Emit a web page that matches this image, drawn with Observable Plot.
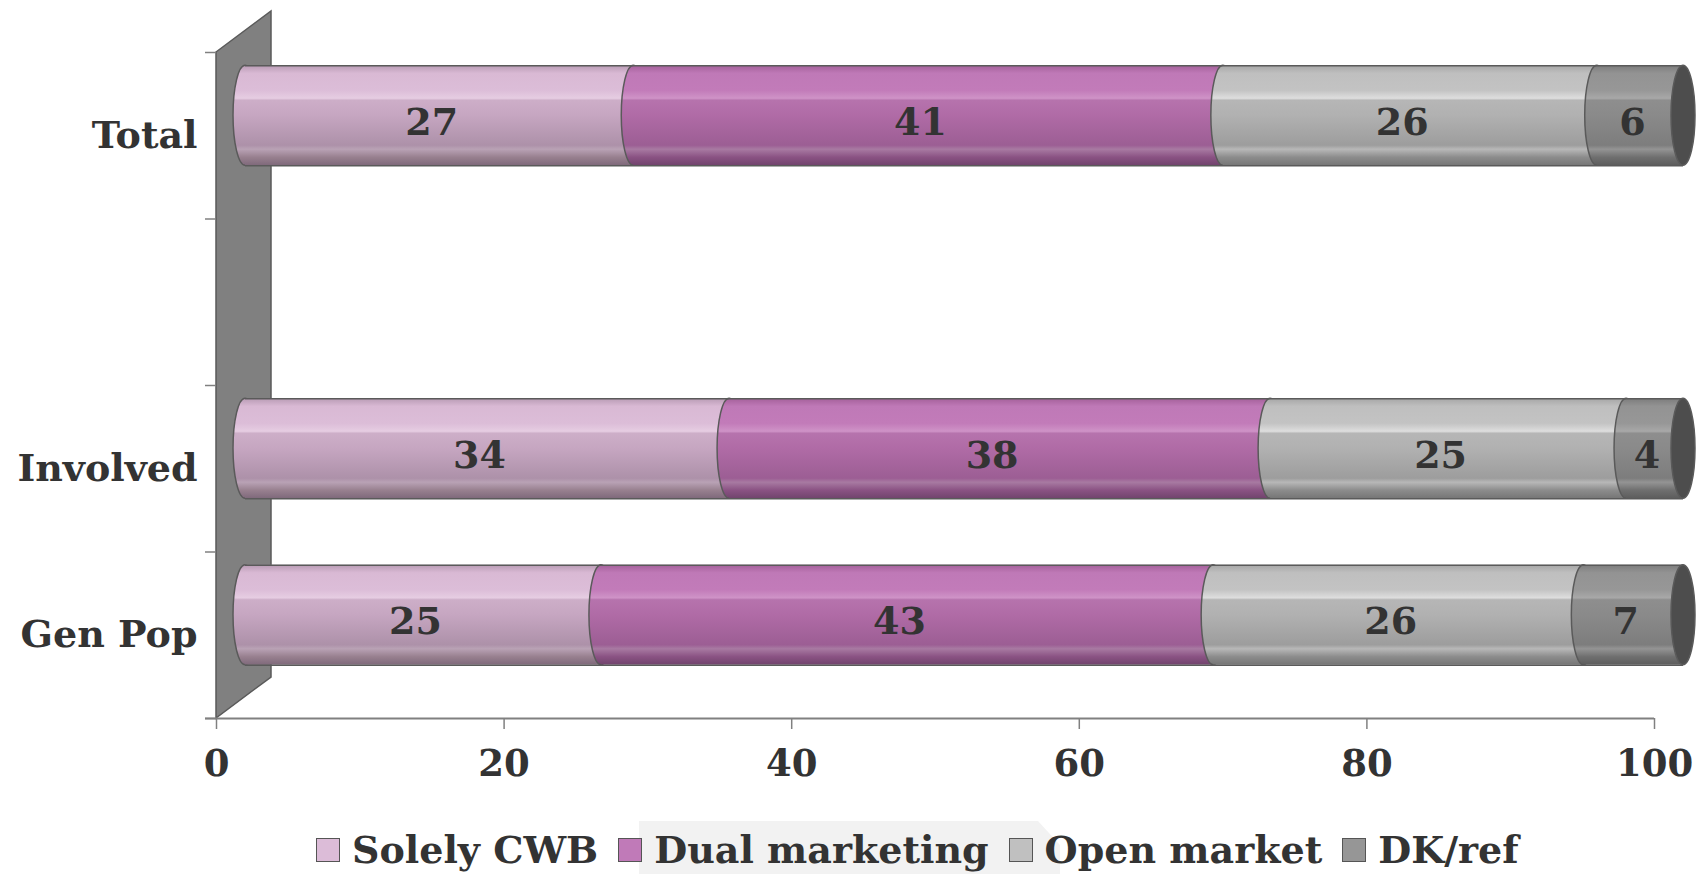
<!DOCTYPE html>
<html><head><meta charset="utf-8">
<script src="https://cdn.jsdelivr.net/npm/d3@7"></script>
<script src="https://cdn.jsdelivr.net/npm/@observablehq/plot@0.6"></script>
<style>
body{margin:0;background:#fff;font-family:"DejaVu Serif",serif;}
#wrap{position:relative;width:1705px;height:874px;overflow:hidden;}
#chart svg{display:block;}
#legend{position:absolute;left:0;top:800px;width:1705px;height:74px;}
#legbg{position:absolute;left:639px;top:21px;width:421px;height:53px;background:#f2f2f2;
  clip-path:polygon(0 0,399px 0,421px 24px,421px 100%,0 100%);}
#items{position:absolute;left:316px;top:30px;display:flex;align-items:center;height:40px;}
.item{display:flex;align-items:center;margin-right:20px;}
.sw{width:24px;height:24px;border:1px solid #555;box-sizing:border-box;margin-right:12px;}
.lab{font:bold 38px "DejaVu Serif",serif;color:#333;line-height:40px;white-space:nowrap;}
</style></head><body>
<div id="wrap"><div id="chart"></div><div id="legend"><div id="legbg"></div><div id="items"></div></div></div>
<script>
// ---- data ----
const categories = ["Total", "", "Involved", "Gen Pop"];
const seriesNames = ["Solely CWB", "Dual marketing", "Open market", "DK/ref"];
const solelyCWB     = [27, null, 34, 25];
const dualMarketing = [41, null, 38, 43];
const openMarket    = [26, null, 25, 26];
const dkRef         = [6,  null, 4,  7];
const xTicks = [0, 20, 40, 60, 80, 100];

// ---- styles ----
const swatch = ["#dcbcd8", "#c07ab8", "#c0c0c0", "#969696"];
const gradStops = [
  ["#b89bb4","#d9b9d4","#dcbdd8","#e6cde2","#cdaec8","#c6a6c1","#ad91a9","#b9a2b5","#98808f","#7f697b"],
  ["#a4609a","#bf79b7","#c27bb9","#cf93c7","#b673ad","#b06ba6","#9c5e94","#a87aa2","#8a5283","#71446d"],
  ["#a6a6a6","#bfbfbf","#c3c3c3","#dedede","#b6b6b6","#b1b1b1","#9d9d9d","#b8b8b8","#8c8c8c","#767676"],
  ["#7c7c7c","#939393","#979797","#a8a8a8","#8e8e8e","#8a8a8a","#7d7d7d","#949494","#6f6f6f","#5d5d5d"]
];
const stopOffsets = [0, 0.08, 0.25, 0.33, 0.35, 0.5, 0.8, 0.84, 0.92, 1];
const DX = 29, DY = -20;           // 3-D offset of the bars
const LABEL_DX = 21, LABEL_DY = -13;
const WALL_DX = 55, WALL_DY = -41; // depth of the side wall
const FONT = "DejaVu Serif";

const seriesValues = [solelyCWB, dualMarketing, openMarket, dkRef];

// build stacked (100%) segments
const segments = [];
const rows = [];
categories.forEach((c, i) => {
  const vals = seriesValues.map(s => s[i]);
  if (vals.every(v => v == null)) return;
  const total = d3.sum(vals);
  let acc = 0;
  vals.forEach((v, k) => {
    const x1 = acc / total * 100;
    acc += v;
    const x2 = acc / total * 100;
    segments.push({cat: c, i, k, value: v, x1, x2});
  });
  rows.push({cat: c, i, start: 0, end: acc / total * 100});
});

const marks = [];
// side wall (drawn via the plot's scales)
marks.push((index, scales) => {
  const x = scales.x, y = scales.y;
  const x0 = x(0), yt = y(0), yb = y(categories.length);
  const p = d3.path();
  p.moveTo(x0, yt); p.lineTo(x0 + WALL_DX, yt + WALL_DY);
  p.lineTo(x0 + WALL_DX, yb + WALL_DY); p.lineTo(x0, yb); p.closePath();
  const g = d3.create("svg:g");
  g.append("path").attr("d", p.toString()).attr("fill", "#808080").attr("stroke", "#5a5a5a").attr("stroke-width", 1.5);
  return g.node();
});
// y-axis boundary ticks
marks.push(Plot.axisY(d3.range(categories.length + 1), {tickSize: 11, tickFormat: () => "", stroke: "#808080", strokeWidth: 1.5}));
// category labels
marks.push(Plot.axisY(categories.map((c, i) => i + 0.5), {
  tickSize: 0, tickPadding: 19, tickFormat: v => categories[Math.floor(v)],
  fontSize: 38, fontWeight: "bold", fill: "#333"
}));
// x axis line
marks.push(Plot.ruleY([categories.length], {stroke: "#808080", strokeWidth: 2, insetLeft: -11}));
marks.push(Plot.axisX(xTicks, {tickSize: 11, tickPadding: 20, stroke: "#808080", strokeWidth: 1.5, fill: "#333", fontSize: 37, fontWeight: "bold"}));

// bars: for each series, the left face (ellipse) then the body
seriesNames.forEach((name, k) => {
  const data = segments.filter(d => d.k === k);
  marks.push(Plot.rect(data, {
    x1: "x1", x2: "x1", y1: d => d.i + 0.2, y2: d => d.i + 0.8,
    insetLeft: -12, insetRight: -12, rx: 12, ry: 50,
    fill: `url(#grad${k})`, stroke: "#5a5a5a", strokeWidth: 1.5, dx: DX, dy: DY
  }));
  marks.push(Plot.rect(data, {
    x1: "x1", x2: "x2", y1: d => d.i + 0.2, y2: d => d.i + 0.8,
    fill: `url(#grad${k})`, dx: DX, dy: DY
  }));
});
// top & bottom outlines of cylinders
marks.push(Plot.ruleY(rows, {y: d => d.i + 0.2, x1: "start", x2: "end", stroke: "#5a5a5a", strokeWidth: 1.5, dx: DX, dy: DY}));
marks.push(Plot.ruleY(rows, {y: d => d.i + 0.8, x1: "start", x2: "end", stroke: "#5a5a5a", strokeWidth: 1.5, dx: DX, dy: DY}));
// right end face
marks.push(Plot.rect(rows, {
  x1: "end", x2: "end", y1: d => d.i + 0.2, y2: d => d.i + 0.8,
  insetLeft: -12, insetRight: -12, rx: 12, ry: 50,
  fill: "#4d4d4d", stroke: "#5a5a5a", strokeWidth: 1.5, dx: DX, dy: DY
}));
// value labels
marks.push(Plot.text(segments, {
  x: d => (d.x1 + d.x2) / 2, y: d => d.i + 0.5, text: d => String(d.value),
  dx: LABEL_DX, dy: LABEL_DY, fontSize: 38, fontWeight: "bold", fill: "#333"
}));

const plot = Plot.plot({
  width: 1705, height: 800,
  marginLeft: 216, marginRight: 51, marginTop: 52, marginBottom: 82,
  style: {fontFamily: FONT, background: "#fff", overflow: "visible"},
  x: {domain: [0, 100], axis: null},
  y: {domain: [0, categories.length], reverse: true, axis: null},
  marks
});

// gradient definitions
const defs = d3.select(plot).insert("defs", ":first-child");
gradStops.forEach((stops, k) => {
  const lg = defs.append("linearGradient").attr("id", `grad${k}`).attr("x1", 0).attr("y1", 0).attr("x2", 0).attr("y2", 1);
  stops.forEach((c, j) => lg.append("stop").attr("offset", stopOffsets[j]).attr("stop-color", c));
});
document.getElementById("chart").append(plot);

// legend
const items = d3.select("#items");
seriesNames.forEach((name, k) => {
  const it = items.append("div").attr("class", "item");
  it.append("div").attr("class", "sw").style("background", swatch[k]);
  it.append("div").attr("class", "lab").text(name);
});
</script>
</body></html>
